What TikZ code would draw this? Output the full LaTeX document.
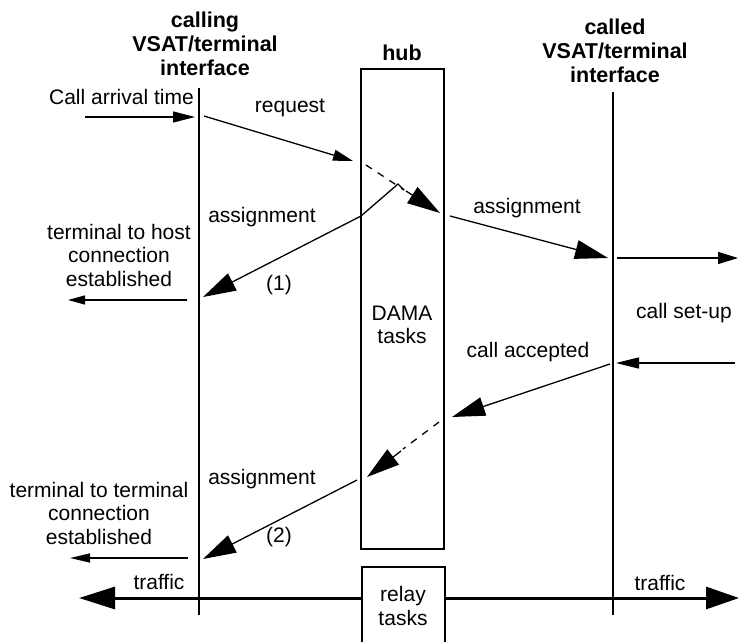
\documentclass[tikz,border=0pt]{standalone}
\usepackage{fontspec}
\setmainfont{Liberation Sans}
\usetikzlibrary{arrows.meta}
\begin{document}
\begin{tikzpicture}[x=1pt,y=-1pt,
  lbl/.style={font=\fontsize{21}{23.5}\selectfont, inner sep=0pt, align=center},
  ttl/.style={font=\fontsize{21.5}{24}\selectfont\bfseries, inner sep=0pt, align=center},
  ln/.style={line width=1.3pt},
  life/.style={line width=1.6pt},
  boxst/.style={draw, line width=1.6pt, inner sep=0pt},
  smallhead/.style={-{Triangle[length=20pt,width=11pt]}},
  tinyhead/.style={-{Triangle[length=17pt,width=9pt]}},
  bighead/.style={-{Triangle[length=33pt,width=19pt]}},
  dsh/.style={dash pattern=on 7pt off 7pt},
  trafficst/.style={line width=3pt, -{Triangle[length=36pt,width=22pt]}}
]
\useasboundingbox (0,0) rectangle (739,642);
\clip (0,0) rectangle (739,642);

% lifelines
\coordinate (c1top) at (199,88);
\coordinate (c1bot) at (199,615);
\coordinate (c2top) at (613,92);
\coordinate (c2bot) at (613,615);
\draw[life] (c1top) -- (c1bot);
\draw[life] (c2top) -- (c2bot);

% hub boxes
\node[boxst, minimum width=83, minimum height=480] (hub) at (402.5,309) {};
\node[boxst, minimum width=83, minimum height=100] (relay) at (403.5,617) {};

% titles
\node[ttl] (t1) at (205,44) {calling\\VSAT/terminal\\interface};
\node[ttl] (th) at (402,53) {hub};
\node[ttl] (t2) at (615,51) {called\\VSAT/terminal\\interface};

% labels
\node[lbl, anchor=east] (carr) at (194,97) {Call arrival time};
\node[lbl] (lreq) at (290,108) {request};
\node[lbl] (las1) at (527,208) {assignment};
\node[lbl] (las2) at (262,217) {assignment};
\node[lbl] (l1) at (279,285) {(1)};
\node[lbl] (lhost) at (119,255) {terminal to host\\connection\\established};
\node[lbl] (ldama) at (402,325) {DAMA\\tasks};
\node[lbl] (lsetup) at (684,313) {call set-up};
\node[lbl] (lacc) at (528,352) {call accepted};
\node[lbl] (las3) at (262,479) {assignment};
\node[lbl] (l2) at (279,537) {(2)};
\node[lbl] (lterm) at (99,513) {terminal to terminal\\connection\\established};
\node[lbl] (ltr1) at (159,582) {traffic};
\node[lbl] (ltr2) at (660,583) {traffic};
\node[lbl] (lrelay) at (403,606) {relay\\tasks};

% coordinates
\coordinate (a0) at (85,117);
\coordinate (a1) at (195,117);
\coordinate (r0) at (204,116);
\coordinate (r1) at (353,161);
\coordinate (d0) at (366,165);
\coordinate (d1) at (404,190);
\coordinate (h0) at (406,191);
\coordinate (h1) at (440,213);
\coordinate (pk) at (398,184);
\coordinate (w1) at (361,216);
\coordinate (e1) at (203,297);
\coordinate (s0) at (450,216);
\coordinate (s1) at (608,258);
\coordinate (o0) at (617,258);
\coordinate (o1) at (738,258);
\coordinate (ho0) at (187,300);
\coordinate (ho1) at (68,300);
\coordinate (i0) at (735,363);
\coordinate (i1) at (616,363);
\coordinate (k0) at (610,364);
\coordinate (k1) at (452,417);
\coordinate (q0) at (439,422);
\coordinate (q1) at (403,449);
\coordinate (g0) at (401,451);
\coordinate (g1) at (367,477);
\coordinate (u0) at (357,480);
\coordinate (u1) at (203,559);
\coordinate (tt0) at (188,558);
\coordinate (tt1) at (70,558);
\coordinate (tl1) at (79,598);
\coordinate (tr1) at (739,598);

% connectors
\draw[ln, -{Triangle[length=22pt,width=11pt]}] (a0) -- (a1);
\draw[ln, smallhead] (r0) -- (r1);
\draw[ln, dsh] (d0) -- (d1);
\draw[ln, bighead] (h0) -- (h1);
\draw[ln, bighead] (d1) -- (pk) -- (w1) -- (e1);
\draw[ln, bighead] (s0) -- (s1);
\draw[ln, -{Triangle[length=20pt,width=12pt]}] (o0) -- (o1);
\draw[ln, tinyhead] (ho0) -- (ho1);
\draw[ln, -{Triangle[length=23pt,width=11pt]}] (i0) -- (i1);
\draw[ln, bighead] (k0) -- (k1);
\draw[ln, dsh] (q0) -- (q1);
\draw[ln, bighead] (g0) -- (g1);
\draw[ln, bighead] (u0) -- (u1);
\draw[ln, -{Triangle[length=20pt,width=9pt]}] (tt0) -- (tt1);
\draw[trafficst] (relay.west |- tl1) -- (tl1);
\draw[trafficst, -{Triangle[length=33pt,width=22pt]}] (relay.east |- tr1) -- (tr1);
\end{tikzpicture}
\end{document}
